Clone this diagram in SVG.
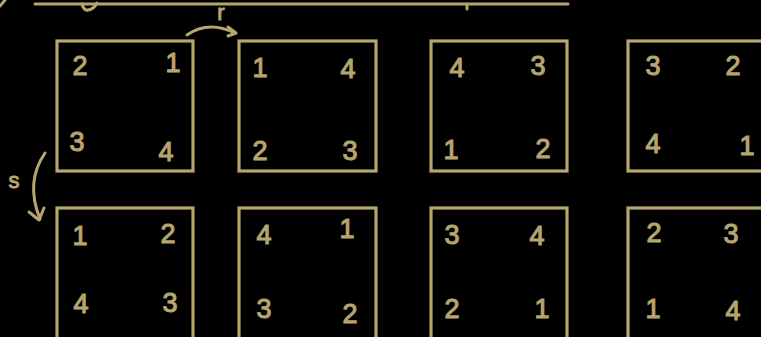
<svg xmlns="http://www.w3.org/2000/svg" width="761" height="337" viewBox="0 0 761 337">
<style>
.bg{fill:#000}
.sq{fill:none;stroke:#b6a56d;stroke-width:3.2}
.ln{fill:none;stroke:#b6a56d;stroke-width:3;stroke-linecap:round;stroke-linejoin:round}
.d{fill:#b6a56d;stroke:#b6a56d;stroke-width:1.1;font-family:"Liberation Sans",Arial,sans-serif;font-size:27px;text-anchor:middle}
.lb{fill:#b6a56d;stroke:#b6a56d;stroke-width:1;font-family:"Liberation Sans",Arial,sans-serif;font-size:22px;text-anchor:middle}
</style>
<rect class="bg" x="0" y="0" width="761" height="337"/>
<g id="top-line">
<path class="ln" d="M35 4 H568"/>
<path class="ln" d="M82 4 Q84 11 88 10 Q94 9 97 3"/>
<path class="ln" d="M467 4 V9"/>
<path class="ln" d="M0 6 L5 0"/>
</g>
<g id="n1"><rect class="sq" x="57" y="41" width="136" height="130"/>
<text class="d" x="80" y="75">2</text><text class="d" x="173" y="72">1</text><text class="d" x="77" y="151">3</text><text class="d" x="166" y="161">4</text></g>
<g id="n2"><rect class="sq" x="239" y="41" width="137" height="130"/>
<text class="d" x="260" y="77">1</text><text class="d" x="348" y="78">4</text><text class="d" x="260" y="160">2</text><text class="d" x="350" y="160">3</text></g>
<g id="n3"><rect class="sq" x="431" y="41" width="136" height="130"/>
<text class="d" x="457" y="77">4</text><text class="d" x="538" y="75">3</text><text class="d" x="451" y="159">1</text><text class="d" x="543" y="158">2</text></g>
<g id="n4"><rect class="sq" x="628" y="41" width="137" height="130"/>
<text class="d" x="653" y="75">3</text><text class="d" x="733" y="75">2</text><text class="d" x="653" y="153">4</text><text class="d" x="747" y="155">1</text></g>
<g id="n5"><rect class="sq" x="57" y="208" width="136" height="140"/>
<text class="d" x="80" y="245">1</text><text class="d" x="168" y="243">2</text><text class="d" x="81" y="313">4</text><text class="d" x="170" y="312">3</text></g>
<g id="n6"><rect class="sq" x="239" y="208" width="137" height="140"/>
<text class="d" x="264" y="244">4</text><text class="d" x="347" y="238">1</text><text class="d" x="264" y="318">3</text><text class="d" x="350" y="323">2</text></g>
<g id="n7"><rect class="sq" x="431" y="208" width="136" height="140"/>
<text class="d" x="452" y="244">3</text><text class="d" x="537" y="245">4</text><text class="d" x="452" y="318">2</text><text class="d" x="542" y="318">1</text></g>
<g id="n8"><rect class="sq" x="628" y="208" width="137" height="140"/>
<text class="d" x="654" y="242">2</text><text class="d" x="731" y="243">3</text><text class="d" x="653" y="318">1</text><text class="d" x="733" y="320">4</text></g>
<g id="connectors">
<path class="ln" d="M187 35 Q208 20 235 33"/>
<path class="ln" d="M228 27 L236 33 L228 36"/>
<text class="lb" x="221" y="20">r</text>
<path class="ln" d="M45 153 Q25 182 40 219"/>
<path class="ln" d="M29 212 L39 220 L44 208"/>
<text class="lb" x="14" y="188">s</text>
</g>
</svg>
